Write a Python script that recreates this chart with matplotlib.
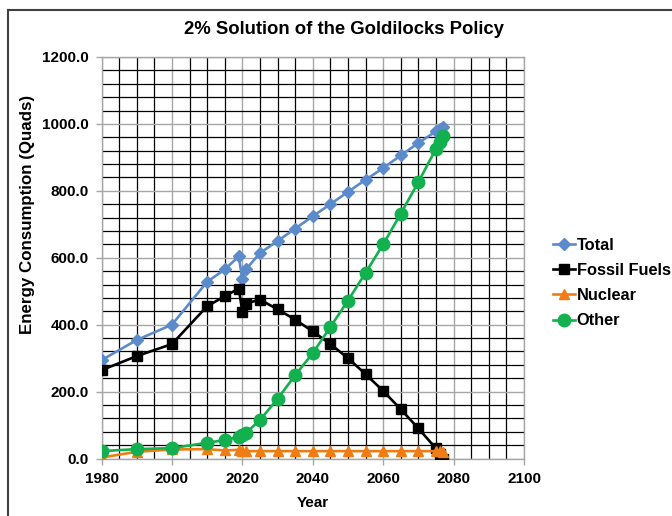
import matplotlib.pyplot as plt
from matplotlib.lines import Line2D
from matplotlib.ticker import MultipleLocator, FuncFormatter

plt.rcParams['font.family'] = ['Liberation Sans', 'DejaVu Sans']
plt.rcParams['font.weight'] = 'bold'

# Data (Quads)
years = [1980, 1990, 2000, 2010, 2015, 2019, 2020, 2021, 2025, 2030, 2035,
         2040, 2045, 2050, 2055, 2060, 2065, 2070, 2075, 2076, 2077]
total = [294, 354, 400, 528, 565, 604, 535, 565, 614, 650, 687,
         724, 760, 797, 833, 868, 906, 943, 978, 985, 992]
fossil = [264, 306, 342, 455, 485, 508, 438, 463, 475, 446, 415,
          380, 342, 300, 252, 202, 147, 90, 30, 14, 0]
nuclear = [3, 20, 27, 28, 24, 26, 22, 22, 22, 22, 22,
           22, 22, 22, 22, 22, 22, 22, 22, 21, 20]
other = [22, 28, 31, 47, 55, 65, 70, 76, 115, 178, 249,
         315, 393, 472, 555, 640, 732, 826, 926, 946, 963]

fig = plt.figure(figsize=(6.72, 5.16), dpi=100)
ax = fig.add_axes([101.5 / 672, 1 - 458.5 / 516, (524 - 101.5) / 672, (458.5 - 57) / 516])

ax.plot(years, total, color='#5B8BCB', lw=1.9, marker='D', ms=6, label='Total', zorder=3)
ax.plot(years, fossil, color='black', lw=1.9, marker='s', ms=7, label='Fossil Fuels', zorder=4)
ax.plot(years, nuclear, color='#F07D14', lw=1.9, marker='^', ms=6.5, label='Nuclear', zorder=5)
ax.plot(years, other, color='#12B04E', lw=1.9, marker='o', ms=9, label='Other', zorder=6)

ax.set_xlim(1980, 2100)
ax.set_ylim(0, 1200)
ax.xaxis.set_major_locator(MultipleLocator(20))
ax.xaxis.set_minor_locator(MultipleLocator(5))
ax.yaxis.set_major_locator(MultipleLocator(200))
ax.yaxis.set_minor_locator(MultipleLocator(40))
ax.yaxis.set_major_formatter(FuncFormatter(lambda v, p: f'{v:.1f}'))

ax.grid(which='minor', color='black', lw=0.9, zorder=1)
ax.grid(which='major', color='#A6A6A6', lw=1.0, zorder=1)
ax.set_axisbelow(True)
for s in ax.spines.values():
    s.set_color('#A6A6A6')
    s.set_linewidth(1.0)

ax.tick_params(which='major', length=4, width=1, color='#A6A6A6', labelsize=11, pad=5)
ax.tick_params(axis='x', pad=6)
ax.tick_params(which='minor', length=0)

ax.set_xlabel('Year', fontsize=11, fontweight='bold', labelpad=7)
fig.text(28 / 672, 1 - 214 / 516, 'Energy Consumption (Quads)', rotation=90,
         ha='center', va='center', fontsize=12.2, fontweight='bold')

fig.text(344 / 672, 1 - 30 / 516, '2% Solution of the Goldilocks Policy',
         ha='center', va='center', fontsize=13.3, fontweight='bold')

ax.legend(loc='center left', bbox_to_anchor=(553 / 672, 1 - 283 / 516),
          bbox_transform=fig.transFigure, frameon=False, fontsize=11.8,
          handlelength=1.35, handletextpad=0.1, labelspacing=0.62,
          borderpad=0, borderaxespad=0)

# outer chart frame (cropped at right and bottom)
fig.add_artist(Line2D([8 / 672, 8 / 672], [0, 1 - 10 / 516], color='#404040', lw=1.5,
                      transform=fig.transFigure))
fig.add_artist(Line2D([8 / 672, 1], [1 - 10 / 516, 1 - 10 / 516], color='#404040', lw=1.5,
                      transform=fig.transFigure))

fig.savefig('out.png', dpi=100)
